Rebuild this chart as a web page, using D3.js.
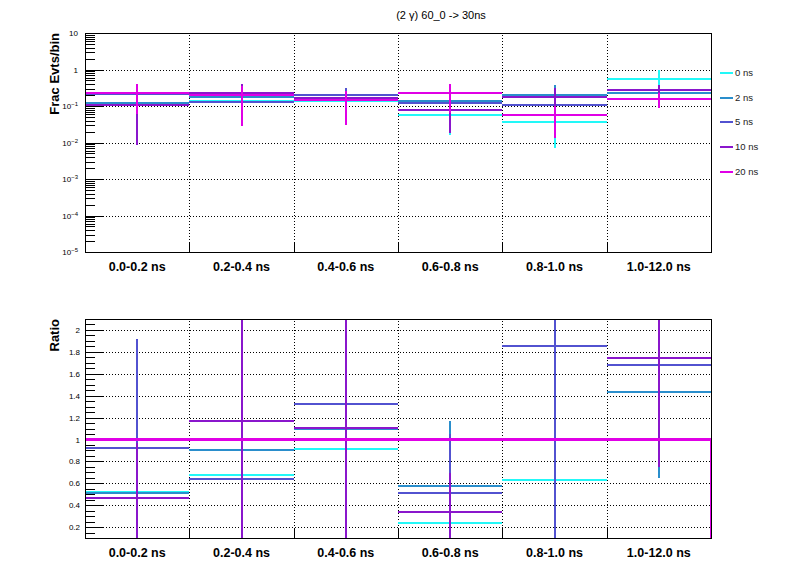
<!DOCTYPE html>
<html><head><meta charset="utf-8">
<script src="https://cdn.jsdelivr.net/npm/d3@7"></script>
<style>
body{margin:0;background:#fff;}
text{font-family:"Liberation Sans",Arial,Helvetica,sans-serif;}
</style>
</head><body><svg id="c" width="796" height="572"></svg>
<script>
// ---------------- data ----------------
const categories = ["0.0-0.2 ns","0.2-0.4 ns","0.4-0.6 ns","0.6-0.8 ns","0.8-1.0 ns","1.0-12.0 ns"];
const seriesNames = ["0 ns","2 ns","5 ns","10 ns","20 ns"];
const seriesColors = ["#22f8f8","#2a8ecc","#5252d0","#8a16cc","#e000e6"];
const titleText = "(2 \u03b3) 60_0 -> 30ns";

// top panel: fraction of events per bin
const frac0ns  = [0.119, 0.135, 0.136, 0.056, 0.037, 0.547];
const frac2ns  = [0.118, 0.176, 0.161, 0.134, 0.202, 0.230];
const frac5ns  = [0.212, 0.125, 0.196, 0.119, 0.108, 0.269];
const frac10ns = [0.107, 0.229, 0.164, 0.079, 0.182, 0.278];
const frac20ns = [0.229, 0.194, 0.148, 0.232, 0.058, 0.160];
const fracErr0ns  = [0.05, 0.05, 0.05, 0.040, 0.030, 0.41];
const fracErr2ns  = [0.05, 0.06, 0.06, 0.06, 0.17, 0.08];
const fracErr5ns  = [0.08, 0.06, 0.118, 0.06, 0.05, 0.08];
const fracErr10ns = [0.0985, 0.17, 0.06, 0.061, 0.124, 0.10];
const fracErr20ns = [0.17, 0.165, 0.117, 0.168, 0.0445, 0.074];

// bottom panel: ratio to 20 ns (null = off scale)
const ratio0ns  = [0.520, 0.679, 0.916, 0.240, 0.630, null];
const ratio2ns  = [0.515, 0.907, 1.093, 0.578, null, 1.437];
const ratio5ns  = [0.925, 0.642, 1.327, 0.514, 1.857, 1.683];
const ratio10ns = [0.468, 1.172, 1.108, 0.341, null, 1.747];
const ratio20ns = [1, 1, 1, 1, 1, 1];
const ratioErr0ns  = [0.30, 0.40, 0.40, 0.30, 0.50, null];
const ratioErr2ns  = [0.35, 0.60, 0.60, 0.59, null, 0.786];
const ratioErr5ns  = [0.99, 0.80, 0.90, 0.533, 1.80, 0.85];
const ratioErr10ns = [0.50, 1.25, 1.15, 0.35, null, 1.00];

const logMajorTicks = [1e-5, 1e-4, 1e-3, 1e-2, 1e-1, 1, 10];
const ratioMajorTicks = [0.2, 0.4, 0.6, 0.8, 1.0, 1.2, 1.4, 1.6, 1.8, 2.0];

// ---------------- layout ----------------
const svg = d3.select("#c");
const FX0 = 85, FX1 = 711;
const P1 = {y0: 33, y1: 252};
const P2 = {y0: 319, y1: 538};

const x = d3.scaleBand().domain(categories).range([FX0, FX1]).padding(0);
const xEdge = d3.scaleLinear().domain([0, categories.length]).range([FX0, FX1]);
const yTop = d3.scaleLog().domain([1e-5, 10]).range([P1.y1, P1.y0]);
const yBot = d3.scaleLinear().domain([0.1, 2.1]).range([P2.y1, P2.y0]);

const defs = svg.append("defs");
defs.append("clipPath").attr("id","clipTop").append("rect")
  .attr("x",FX0).attr("y",P1.y0).attr("width",FX1-FX0).attr("height",P1.y1-P1.y0);
defs.append("clipPath").attr("id","clipBot").append("rect")
  .attr("x",FX0).attr("y",P2.y0).attr("width",FX1-FX0).attr("height",P2.y1-P2.y0+2);

// title
svg.append("text").attr("x",441).attr("y",19).attr("text-anchor","middle")
  .attr("font-size",11).attr("fill","#000").text(titleText);

function gridAndFrame(yS, P, majors) {
  const g = svg.append("g");
  // horizontal grid
  g.append("g").attr("transform",`translate(${FX0},0)`)
    .call(d3.axisLeft(yS).tickValues(majors.filter(v => yS(v) > P.y0+1 && yS(v) < P.y1-1))
      .tickSize(-(FX1-FX0)).tickFormat(""))
    .call(a => a.select(".domain").remove())
    .selectAll("line").attr("stroke","#000").attr("stroke-width",1)
      .attr("stroke-dasharray","1,2").attr("shape-rendering","crispEdges");
  // vertical grid at bin edges
  g.append("g").attr("transform",`translate(0,${P.y1})`)
    .call(d3.axisBottom(xEdge).tickValues(d3.range(1, categories.length))
      .tickSize(-(P.y1-P.y0)).tickFormat(""))
    .call(a => a.select(".domain").remove())
    .selectAll("line").attr("stroke","#000").attr("stroke-width",1)
      .attr("stroke-dasharray","1,2").attr("shape-rendering","crispEdges");
  // x edge ticks
  g.append("g").attr("transform",`translate(0,${P.y1})`)
    .call(d3.axisBottom(xEdge).tickValues(d3.range(1, categories.length))
      .tickSize(-9).tickFormat(""))
    .call(a => a.select(".domain").remove())
    .selectAll("line").attr("stroke","#000").attr("shape-rendering","crispEdges");
  // x category labels
  g.append("g").attr("transform",`translate(0,${P.y1})`)
    .call(d3.axisBottom(x).tickSize(0).tickPadding(10))
    .call(a => a.select(".domain").remove())
    .selectAll("text").attr("font-size",12.5).attr("font-weight","bold")
      .attr("font-family","'Liberation Sans',Arial,sans-serif").attr("fill","#000");
  return g;
}

function frame(P) {
  svg.append("rect").attr("x",FX0+0.5).attr("y",P.y0+0.5)
    .attr("width",FX1-FX0).attr("height",P.y1-P.y0)
    .attr("fill","none").attr("stroke","#000").attr("stroke-width",1);
}

// ---------------- top panel ----------------
gridAndFrame(yTop, P1, logMajorTicks);
// minor log ticks
const logMinor = [];
logMajorTicks.slice(0,-1).forEach(d => { for (let k=2;k<=9;k++) logMinor.push(d*k); });
svg.append("g").attr("transform",`translate(${FX0},0)`)
  .call(d3.axisLeft(yTop).tickValues(logMinor).tickSize(-10).tickFormat(""))
  .call(a => a.select(".domain").remove())
  .selectAll("line").attr("stroke","#000").attr("shape-rendering","crispEdges");
const yAxTop = svg.append("g").attr("transform",`translate(${FX0},0)`)
  .call(d3.axisLeft(yTop).tickValues(logMajorTicks).tickSize(-19).tickPadding(7).tickFormat(""))
  .call(a => a.select(".domain").remove());
yAxTop.selectAll("line").attr("stroke","#000").attr("shape-rendering","crispEdges");
yAxTop.selectAll(".tick").each(function(d){
  const t = d3.select(this).append("text").attr("x",-7).attr("dy","0.35em")
    .attr("text-anchor","end").attr("font-size",8).attr("fill","#000");
  const ex = Math.round(Math.log10(d));
  if (ex === 0) t.text("1");
  else if (ex === 1) t.text("10");
  else {
    t.append("tspan").text("10");
    t.append("tspan").attr("font-size",6).attr("dy","-0.5em").text("\u2212" + Math.abs(ex));
  }
});

const fracVals = [frac0ns, frac2ns, frac5ns, frac10ns, frac20ns];
const fracErrs = [fracErr0ns, fracErr2ns, fracErr5ns, fracErr10ns, fracErr20ns];
const gTop = svg.append("g").attr("clip-path","url(#clipTop)");
function drawSeries(g, yS, vals, errs, color, lo, hi) {
  categories.forEach((c,i) => {
    const v = vals[i]; if (v == null) return;
    const e = errs ? (errs[i] || 0) : 0;
    const xl = x(c), xr = x(c) + x.bandwidth(), xc = xl + x.bandwidth()/2;
    g.append("line").attr("x1",xl).attr("x2",xr).attr("y1",yS(v)).attr("y2",yS(v))
      .attr("stroke",color).attr("stroke-width",2).attr("shape-rendering","crispEdges");
    if (e > 0) {
      const a = Math.max(v - e, lo), b = Math.min(v + e, hi);
      g.append("line").attr("x1",xc).attr("x2",xc).attr("y1",yS(a)).attr("y2",yS(b))
        .attr("stroke",color).attr("stroke-width",2).attr("shape-rendering","crispEdges");
    }
  });
}
fracVals.forEach((vals,k) => drawSeries(gTop, yTop, vals, fracErrs[k], seriesColors[k], 1e-5, 10));
frame(P1);

svg.append("text").attr("transform",`translate(59,${P1.y0}) rotate(-90)`)
  .attr("text-anchor","end").attr("font-size",13).attr("font-weight","bold")
  .attr("fill","#000").text("Frac Evts/bin");

// legend
const legY = [73, 97.5, 122, 147, 171.5];
seriesNames.forEach((n,k) => {
  svg.append("line").attr("x1",720).attr("x2",733).attr("y1",legY[k]).attr("y2",legY[k])
    .attr("stroke",seriesColors[k]).attr("stroke-width",2).attr("shape-rendering","crispEdges");
  svg.append("text").attr("x",735).attr("y",legY[k]).attr("dy","0.35em")
    .attr("font-size",9.5).attr("fill","#222").text(n);
});

// ---------------- bottom panel ----------------
gridAndFrame(yBot, P2, ratioMajorTicks);
const ratioMinor = d3.range(0.1, 2.101, 0.05).map(v => +v.toFixed(2))
  .filter(v => !ratioMajorTicks.some(m => Math.abs(m - v) < 1e-6) && v > 0.1);
svg.append("g").attr("transform",`translate(${FX0},0)`)
  .call(d3.axisLeft(yBot).tickValues(ratioMinor).tickSize(-10).tickFormat(""))
  .call(a => a.select(".domain").remove())
  .selectAll("line").attr("stroke","#000").attr("shape-rendering","crispEdges");
const yAxBot = svg.append("g").attr("transform",`translate(${FX0},0)`)
  .call(d3.axisLeft(yBot).tickValues(ratioMajorTicks).tickSize(-19).tickPadding(5)
    .tickFormat(d => d3.format("~g")(d)))
  .call(a => a.select(".domain").remove());
yAxBot.selectAll("line").attr("stroke","#000").attr("shape-rendering","crispEdges");
yAxBot.selectAll("text").attr("font-size",8).attr("fill","#000")
  .attr("font-family","'Liberation Sans',Arial,sans-serif");

const ratioVals = [ratio0ns, ratio2ns, ratio5ns, ratio10ns];
const ratioErrs = [ratioErr0ns, ratioErr2ns, ratioErr5ns, ratioErr10ns];
const gBot = svg.append("g").attr("clip-path","url(#clipBot)");
ratioVals.forEach((vals,k) => drawSeries(gBot, yBot, vals, ratioErrs[k], seriesColors[k], 0.1, 2.1));
// reference (20 ns / 20 ns) drawn as a step histogram
const stepPts = categories.map((c,i) => [x(c), ratio20ns[i]]);
stepPts.push([FX1, ratio20ns[ratio20ns.length-1]]);
stepPts.push([FX1, 0.1]);
gBot.append("path")
  .attr("d", d3.line().x(d => d[0]).y(d => yBot(d[1])).curve(d3.curveLinear)(stepPts))
  .attr("fill","none").attr("stroke",seriesColors[4]).attr("stroke-width",3)
  .attr("shape-rendering","crispEdges");
frame(P2);

svg.append("text").attr("transform",`translate(59,${P2.y0}) rotate(-90)`)
  .attr("text-anchor","end").attr("font-size",13).attr("font-weight","bold")
  .attr("fill","#000").text("Ratio");
</script>
</body></html>
